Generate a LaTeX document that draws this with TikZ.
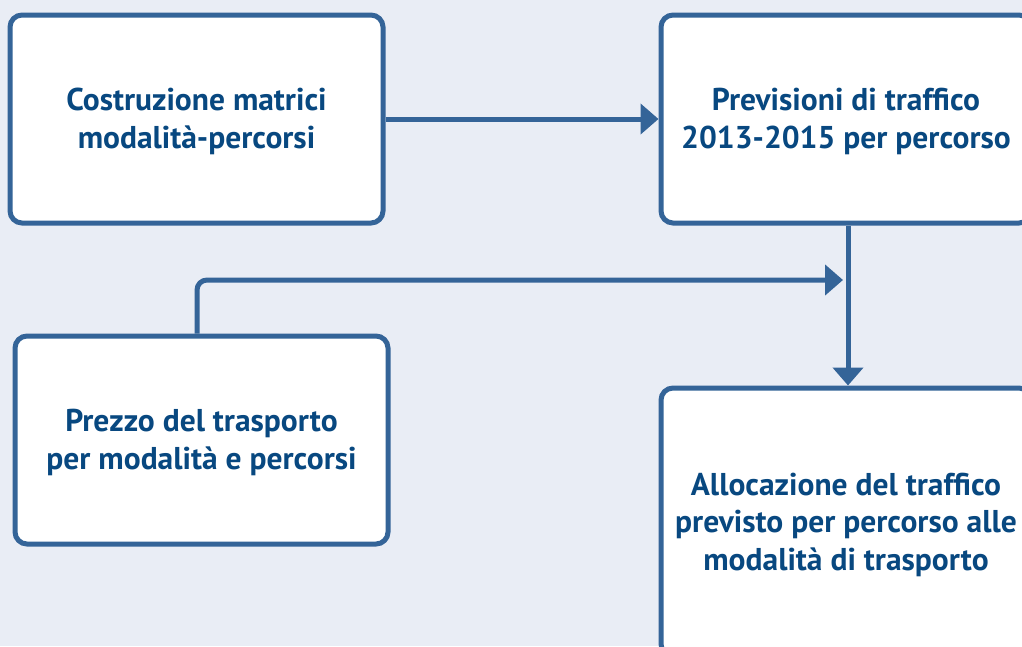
\documentclass[tikz,border=0pt]{standalone}
\usepackage{fontspec}
\setmainfont{PT Sans}
\usetikzlibrary{arrows.meta}
\definecolor{bg}{RGB}{233,237,245}
\definecolor{edge}{RGB}{52,100,152}
\definecolor{txt}{RGB}{8,72,128}
\tikzset{
  box/.style={draw=edge, line width=5pt, fill=white, rounded corners=12pt, inner sep=0pt},
  lbl/.style={align=center, text=txt, font=\fontsize{31.5}{37.5}\selectfont\bfseries, inner sep=0pt, yshift=-2.5pt},
  arr/.style={draw=edge, line width=5pt, -{Triangle[length=18pt,width=30pt]}}
}
\begin{document}
\begin{tikzpicture}[x=1pt,y=-1pt]
\clip (0,0) rectangle (1022,646);
\fill[bg] (0,0) rectangle (1022,646);
\node[box, minimum width=373pt, minimum height=208pt] (b1) at (196.5,119) {};
\node[box, minimum width=370pt, minimum height=208pt] (b2) at (846,119) {};
\node[box, minimum width=373pt, minimum height=208pt] (b3) at (201.5,440) {};
\node[box, minimum width=370pt, minimum height=268pt] (b4) at (846,522) {};
\node[lbl] (t1) at (b1.center) {Costruzione matrici\\modalità-percorsi};
\node[lbl] (t2) at (b2.center) {Previsioni di traffico\\2013-2015 per percorso};
\node[lbl] (t3) at (b3.center) {Prezzo del trasporto\\per modalità e percorsi};
\node[lbl] (t4) at (b4.center) {Allocazione del traffico\\previsto per percorso alle\\modalità di trasporto};
\coordinate (join) at (843,280);
\draw[arr] (b1.east) -- (b2.west);
\draw[arr] (b2.south -| 848,0) -- (b4.north -| 848,0);
\draw[arr, rounded corners=10pt] (b3.north -| 197,0) |- (join);
\end{tikzpicture}
\end{document}
